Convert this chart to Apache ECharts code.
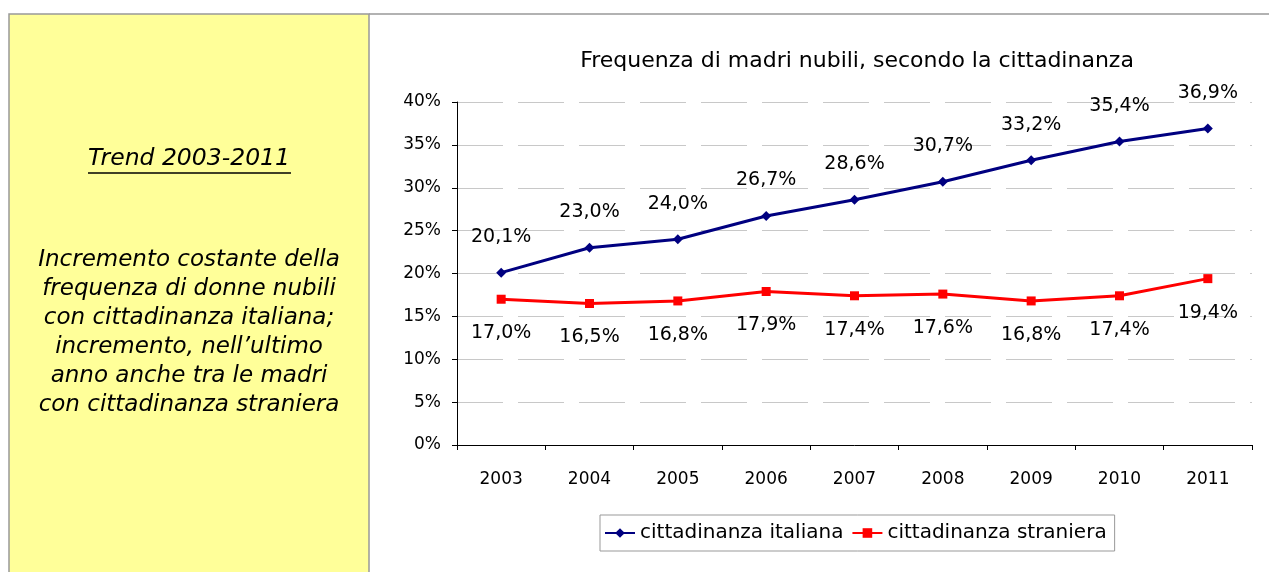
<!DOCTYPE html>
<html><head><meta charset="utf-8">
<script src="https://cdn.jsdelivr.net/npm/echarts@6/dist/echarts.min.js"></script>
<style>html,body{margin:0;padding:0;background:#fff}#c{width:1269px;height:572px}</style>
</head><body><div id="c"></div>
<script>
const categories = ['2003','2004','2005','2006','2007','2008','2009','2010','2011'];
const italiana = [20.1, 23.0, 24.0, 26.7, 28.6, 30.7, 33.2, 35.4, 36.9];
const straniera = [17.0, 16.5, 16.8, 17.9, 17.4, 17.6, 16.8, 17.4, 19.4];
const seriesNames = ['cittadinanza italiana', 'cittadinanza straniera'];
const titleText = 'Frequenza di madri nubili, secondo la cittadinanza';
const panelTitle = 'Trend 2003-2011';
const panelLines = ['Incremento costante della','frequenza di donne nubili','con cittadinanza italiana;','incremento, nell\u2019ultimo','anno anche tra le madri','con cittadinanza straniera'];

const chartFont = '"DejaVu Sans", sans-serif';
const fmt = v => v.toFixed(1).replace('.', ',') + '%';
const chart = echarts.init(document.getElementById('c'), null, {renderer: 'canvas'});

const graphics = [
  {type: 'rect', shape: {x: 9, y: 14, width: 360, height: 570}, style: {fill: '#FFFF99', stroke: '#999999', lineWidth: 1.5}, z: -10},
  {type: 'line', shape: {x1: 369, y1: 14, x2: 1269, y2: 14}, style: {stroke: '#999999', lineWidth: 1.5}, z: -10},
  {type: 'text', x: 189, y: 159, style: {text: panelTitle, fill: '#000', font: 'italic 23.5px "DejaVu Sans", sans-serif', align: 'center', verticalAlign: 'middle'}},
  {type: 'line', shape: {x1: 88, y1: 173, x2: 291, y2: 173}, style: {stroke: '#000', lineWidth: 1.5}}
];
panelLines.forEach((t, i) => {
  graphics.push({type: 'text', x: 189, y: 260 + i * 29, style: {text: t, fill: '#000', font: 'italic 23px "DejaVu Sans", sans-serif', align: 'center', verticalAlign: 'middle'}});
});

chart.setOption({
  animation: false,
  backgroundColor: '#fff',
  textStyle: {fontFamily: chartFont},
  title: {text: titleText, left: 852, textAlign: 'center', top: 45, textStyle: {fontSize: 22, fontWeight: 'normal', color: '#000', fontFamily: chartFont}},
  graphic: graphics,
  grid: {left: 457, right: 17, top: 102, bottom: 127, containLabel: false},
  legend: {
    data: seriesNames, left: 600, top: 515, itemWidth: 30, itemHeight: 12, itemGap: 8,
    borderColor: '#999', borderWidth: 1, padding: [8, 8, 8, 4],
    textStyle: {fontSize: 20, color: '#000', fontFamily: chartFont}
  },
  xAxis: {
    type: 'category', data: categories, boundaryGap: true,
    axisLine: {lineStyle: {color: '#000', width: 1}},
    axisTick: {show: true, inside: false, length: 5, alignWithLabel: false, lineStyle: {color: '#000'}},
    axisLabel: {color: '#000', fontSize: 17, margin: 26, fontFamily: chartFont}
  },
  yAxis: {
    type: 'value', min: 0, max: 40, interval: 5,
    axisLine: {show: true, lineStyle: {color: '#000', width: 1}},
    axisTick: {show: true, length: 5, lineStyle: {color: '#000'}},
    axisLabel: {color: '#000', fontSize: 17, margin: 16, formatter: v => v + '%', fontFamily: chartFont},
    splitLine: {show: true, lineStyle: {color: '#C8C8C8', width: 1, type: [46, 15]}}
  },
  series: [
    {
      name: seriesNames[0], type: 'line', data: italiana,
      symbol: 'diamond', symbolSize: 10,
      lineStyle: {color: '#000080', width: 3}, itemStyle: {color: '#000080'},
      label: {show: true, position: 'top', distance: 21, formatter: p => fmt(p.value), fontSize: 19, color: '#000', fontFamily: chartFont}
    },
    {
      name: seriesNames[1], type: 'line', data: straniera,
      symbol: 'rect', symbolSize: 9,
      lineStyle: {color: '#FF0000', width: 3}, itemStyle: {color: '#FF0000'},
      label: {show: true, position: 'bottom', distance: 20, formatter: p => fmt(p.value), fontSize: 19, color: '#000', fontFamily: chartFont}
    }
  ]
});
</script></body></html>
